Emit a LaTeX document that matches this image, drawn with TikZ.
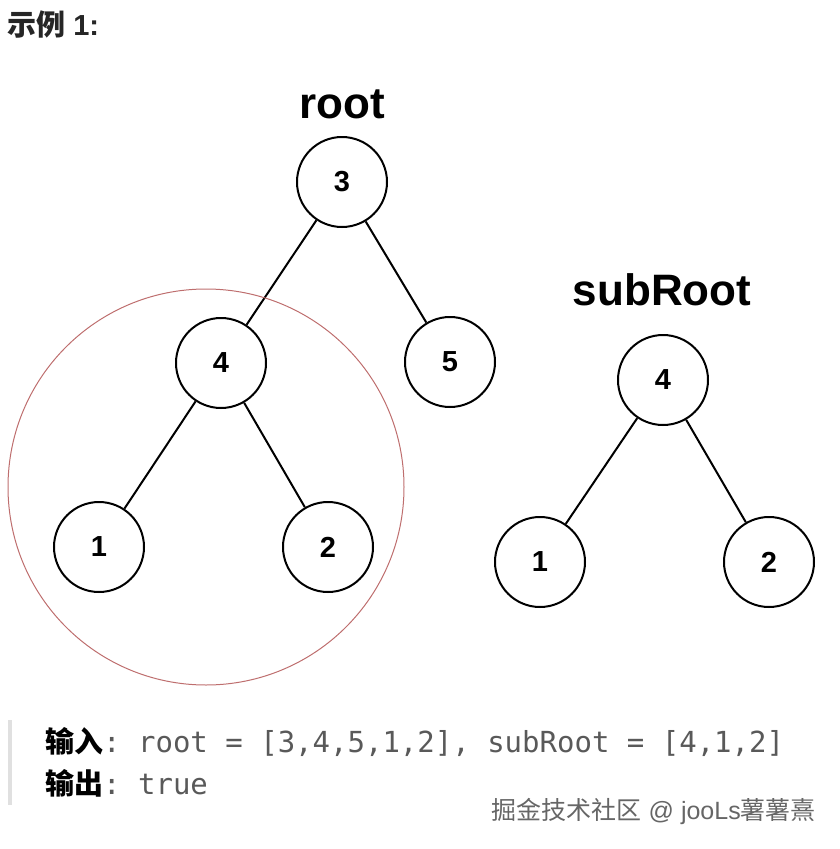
\documentclass[tikz,border=0pt]{standalone}
\usepackage{fontspec}
\setmainfont{Liberation Sans}
\setmonofont{DejaVu Sans Mono}
\newfontfamily\cjk{Noto Sans CJK SC}
\begin{document}
\begin{tikzpicture}[x=1pt,y=-1pt,
  tn/.style={circle,draw,line width=2pt,minimum size=90pt,inner sep=0pt,font=\fontsize{29}{29}\selectfont\bfseries},
  ed/.style={line width=2pt},
  lbl/.style={font=\fontsize{44}{44}\selectfont\bfseries},
  code/.style={anchor=base west,inner sep=0pt,font=\fontsize{29}{29}\selectfont}]
\useasboundingbox (0,0) rectangle (839,849);
\node[anchor=base west,inner sep=0pt,font=\fontsize{29}{29}\selectfont\bfseries,text=black!85] (title) at (7,35) {{\cjk\bfseries 示例} 1:};
\node[lbl] (rl) at (342,104) {root};
\node[lbl] (sl) at (662,290) {subRoot};
\node[tn] (a) at (342,182) {3};
\node[tn] (b) at (221,363) {4};
\node[tn] (c) at (450,362) {5};
\node[tn] (d) at (99,547) {1};
\node[tn] (e) at (328,547) {2};
\node[tn] (f) at (663,380) {4};
\node[tn] (g) at (540,562) {1};
\node[tn] (h) at (769,562) {2};
\draw[ed] (a) -- (b); \draw[ed] (a) -- (c);
\draw[ed] (b) -- (d); \draw[ed] (b) -- (e);
\draw[ed] (f) -- (g); \draw[ed] (f) -- (h);
\definecolor{ring}{RGB}{190,110,110}
\node[circle,draw=ring,line width=1pt,minimum size=396pt,inner sep=0pt] (ringc) at (206,487) {};
\fill[black!12] (8,720) rectangle (12,805);
\node[code] (l1) at (45,752) {{\cjk\bfseries 输入}\textcolor{black!65}{\ttfamily : root = [3,4,5,1,2], subRoot = [4,1,2]}};
\node[code] (l2) at (45,794) {{\cjk\bfseries 输出}\textcolor{black!65}{\ttfamily : true}};
\node[anchor=base east,inner sep=0pt,font=\fontsize{25}{25}\selectfont,text=black!60] (wm) at (816,819) {{\cjk 掘金技术社区} @ jooLs{\cjk 薯薯熹}};
\end{tikzpicture}
\end{document}
